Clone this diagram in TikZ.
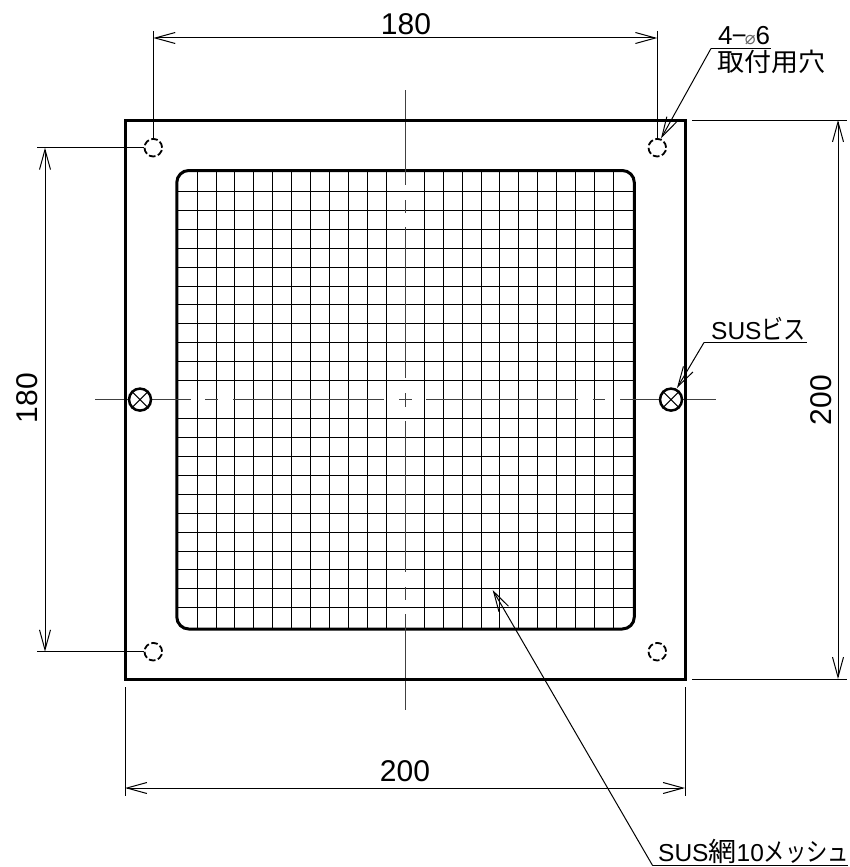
\documentclass[tikz,border=0pt]{standalone}
\usepackage{fontspec}
\usetikzlibrary{arrows.meta}
\setmainfont{Liberation Sans}
\newfontfamily\cjk[FakeStretch=1.06]{Noto Sans CJK JP}
\newfontfamily\kana[FakeStretch=0.82]{Noto Sans CJK JP}
\newfontfamily\sym{DejaVu Sans}
\tikzset{
  outline/.style={draw=black,line width=3pt},
  rim/.style={draw=black,line width=3pt,rounded corners=12pt},
  wire/.style={draw=black,line width=1pt},
  axisline/.style={draw=black!75,line width=1.1pt},
  thinline/.style={draw=black,line width=1pt},
  dimline/.style={draw=black,line width=1pt,{Straight Barb[length=20pt,width=11pt]}-{Straight Barb[length=20pt,width=11pt]}},
  leader/.style={draw=black,line width=1pt,-{Straight Barb[length=20pt,width=11pt]}},
  hole/.style={circle,draw=black,line width=1.8pt,minimum size=17.6pt,inner sep=0pt,dash pattern=on 6.6pt off 2.6pt},
  screw/.style={circle,draw=black,fill=white,line width=2.5pt,minimum size=22pt,inner sep=0pt},
  dimtext/.style={inner sep=0pt,font=\fontsize{30}{30}\selectfont},
  note/.style={inner sep=0pt,anchor=base west,font=\fontsize{24.5}{24.5}\selectfont},
}
\begin{document}
\begin{tikzpicture}[x=1pt,y=-1pt]
\useasboundingbox (0,0) rectangle (850,867);
% mesh
\foreach \k in {-11,...,-1,1,2,...,11} {
  \draw[wire] ({405.3+18.93*\k},171) -- ({405.3+18.93*\k},629);
  \draw[wire] (177,{399.6+18.93*\k}) -- (634,{399.6+18.93*\k});
}
\draw[rim] (176.8,170.5) rectangle (634.3,629);
% centre lines
\draw[axisline] (405.3,90) -- (405.3,185) (405.3,200) -- (405.3,213) (405.3,227) -- (405.3,378);
\draw[axisline] (405.3,421) -- (405.3,572) (405.3,587) -- (405.3,600) (405.3,614) -- (405.3,710);
\draw[axisline] (95,399.6) -- (191,399.6) (205,399.6) -- (218,399.6) (233,399.6) -- (384,399.6);
\draw[axisline] (426,399.6) -- (578,399.6) (592.5,399.6) -- (605,399.6) (620,399.6) -- (716,399.6);
\draw[axisline] (399,399.6) -- (411.7,399.6) (405.3,393) -- (405.3,406.5);
% plate
\draw[outline] (125,120) rectangle (685,679.5);
% holes
\node[hole] (hTL) at (153.3,147.7) {};
\node[hole] (hTR) at (657.3,147.7) {};
\node[hole] (hBL) at (153.3,651.7) {};
\node[hole] (hBR) at (657.3,651.7) {};
% screws
\node[screw] (sL) at (140,399.6) {};
\node[screw] (sR) at (671,399.6) {};
\foreach \s in {sL,sR} {
  \draw[thinline] (\s.45) -- (\s.225) (\s.135) -- (\s.315);
}
% extension coordinates
\coordinate (eTL) at (153.3,31);
\coordinate (eTR) at (657.3,31);
\coordinate (dTL) at (153.3,38);
\coordinate (dTR) at (657.3,38);
\coordinate (eLT) at (37,147.7);
\coordinate (eLB) at (37,651.7);
\coordinate (dLT) at (45,147.7);
\coordinate (dLB) at (45,651.7);
\coordinate (eRTa) at (692,120);
\coordinate (eRTb) at (847,120);
\coordinate (eRBa) at (692,679);
\coordinate (eRBb) at (847,679);
\coordinate (dRT) at (838,120);
\coordinate (dRB) at (838,679);
\coordinate (eBLa) at (125,687);
\coordinate (eBLb) at (125,796);
\coordinate (eBRa) at (685,687);
\coordinate (eBRb) at (685,796);
\coordinate (dBL) at (125,788);
\coordinate (dBR) at (685,788);
% extension lines
\draw[thinline] (eTL) -- (hTL);
\draw[thinline] (eTR) -- (hTR);
\draw[thinline] (eLT) -- (hTL);
\draw[thinline] (eLB) -- (hBL);
\draw[thinline] (eRTa) -- (eRTb);
\draw[thinline] (eRBa) -- (eRBb);
\draw[thinline] (eBLa) -- (eBLb);
\draw[thinline] (eBRa) -- (eBRb);
% dimensions
\draw[dimline] (dTL) -- (dTR);
\draw[dimline] (dLT) -- (dLB);
\draw[dimline] (dRT) -- (dRB);
\draw[dimline] (dBL) -- (dBR);
\node[dimtext] (t180a) at (406,24) {180};
\node[dimtext,rotate=90] (t180b) at (27.5,398) {180};
\node[dimtext,rotate=90] (t200a) at (821.5,400) {200};
\node[dimtext] (t200b) at (405,771) {200};
% notes
\node[note,font=\fontsize{26}{26}\selectfont] (n1a) at (718,45) {4\hspace{-1pt}−\hspace{-2pt}{\sym\fontsize{18}{18}\selectfont\color{black!60}⌀}6};
\node[note] (n1b) at (717,71.5) {\cjk\fontsize{25.5}{25.5}\selectfont 取付用穴};
\node[note] (n2) at (711,339.5) {SUS\kana\fontsize{27}{27}\selectfont ビス};
\node[note] (n3) at (658,861.5) {SUS{\cjk\fontsize{26.5}{26.5}\selectfont 網}10{\kana\fontsize{26}{26}\selectfont メッシュ}};
\coordinate (u1a) at (711,48.5);
\coordinate (u1b) at (771,48.5);
\coordinate (u2a) at (704,342.5);
\coordinate (u2b) at (807,342.5);
\coordinate (u3a) at (652.7,865.7);
\coordinate (u3b) at (848,865.7);
\coordinate (tip1) at (661,138.5);
\coordinate (tip2) at (677,388);
\coordinate (tip3) at (492.7,590);
\draw[thinline] (u1a) -- (u1b);
\draw[thinline] (u2a) -- (u2b);
\draw[thinline] (u3a) -- (u3b);
\draw[leader] (u1a) -- (tip1);
\draw[leader] (u2a) -- (tip2);
\draw[leader] (u3a) -- (tip3);
\end{tikzpicture}
\end{document}
